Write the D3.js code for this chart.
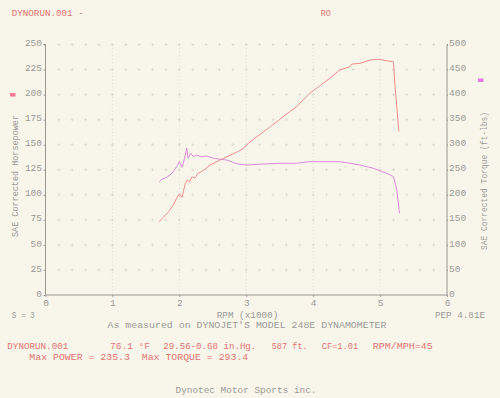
<!DOCTYPE html>
<html><head><meta charset="utf-8">
<script src="https://cdn.jsdelivr.net/npm/d3@7"></script>
<style>
html,body{margin:0;padding:0;background:#f8f6eb;}
svg{display:block;}
text{font-family:"Liberation Mono","DejaVu Sans Mono",monospace;font-size:9.5px;white-space:pre;}
</style></head>
<body>
<svg id="chart" width="500" height="398"></svg>
<script>
// ---- data ----
const powerRpm = [1.70,1.76,1.84,1.91,1.96,2.00,2.04,2.06,2.09,2.12,2.15,2.19,2.23,2.28,2.33,2.38,2.46,2.56,2.66,2.76,2.87,2.96,3.03,3.16,3.26,3.36,3.46,3.55,3.65,3.75,3.85,3.95,4.05,4.15,4.25,4.40,4.55,4.58,4.70,4.85,4.97,5.10,5.20,5.22,5.25,5.28];
const powerHp  = [73.2,77.5,83.1,89.8,96.5,100.8,97.5,103.1,111.5,114.8,113.1,118.1,116.5,121.5,123.1,125.4,129.7,133.0,136.4,139.5,143.0,146.4,151.4,158.0,163.0,168.0,173.0,178.0,182.9,187.9,194.6,201.3,206.3,211.3,216.3,224.6,227.8,230.5,231.2,234.5,235.3,233.8,232.8,211.3,187.9,163.0];
const torqueRpm = [1.70,1.74,1.81,1.89,1.96,2.00,2.04,2.06,2.10,2.11,2.13,2.17,2.21,2.26,2.33,2.41,2.51,2.61,2.71,2.81,2.88,3.01,3.26,3.51,3.75,3.95,4.25,4.40,4.55,4.70,4.90,5.10,5.20,5.25,5.29];
const torqueFt  = [226.1,230.9,234.9,242.9,256.1,266.1,254.9,262.9,286.0,293.4,272.9,282.8,276.0,279.4,276.0,277.4,272.9,270.9,269.5,264.1,261.5,259.5,261.5,262.9,262.9,266.1,266.1,266.1,262.9,259.5,252.9,242.9,236.1,209.6,163.1];
const hpTicks = [0,25,50,75,100,125,150,175,200,225,250];
const tqTicks = [0,50,100,150,200,250,300,350,400,450,500];
const rpmTicks = [0,1,2,3,4,5,6];

const svg = d3.select("#chart");
const x = d3.scaleLinear().domain([0,6]).range([45.5,447]);
const yHp = d3.scaleLinear().domain([0,250]).range([295,44.5]);
const yTq = d3.scaleLinear().domain([0,500]).range([295,44.5]);

const grey = "#9a9a98", red = "#e27272";
const gridCol = "#d6d6cf";

// background
svg.append("rect").attr("width",500).attr("height",398).attr("fill","#f8f6eb");

// grid: plus marks
const g = svg.append("g");
const minor = d3.range(1,30).map(i => i*0.2);
hpTicks.filter(v=>v>0).forEach(v=>{
  minor.forEach(r=>{
    const cx = x(r), cy = yHp(v);
    g.append("path").attr("d",`M${cx-1.5},${cy}H${cx+1.5}M${cx},${cy-1.5}V${cy+1.5}`)
      .attr("stroke",gridCol).attr("stroke-width",0.7);
  });
});
// vertical dotted lines at integer rpm
[1,2,3,4,5].forEach(r=>{
  g.append("line").attr("x1",x(r)).attr("x2",x(r)).attr("y1",yHp(250)).attr("y2",yHp(0))
    .attr("stroke",gridCol).attr("stroke-width",0.8).attr("stroke-dasharray","1,2.5");
});

// axes
const axisCol = "#8c8c88";
const left = svg.append("g").attr("transform",`translate(${x(0)},0)`)
  .call(d3.axisLeft(yHp).tickValues(hpTicks).tickSize(2).tickPadding(1.5));
const right = svg.append("g").attr("transform",`translate(${x(6)},0)`)
  .call(d3.axisRight(yTq).tickValues(tqTicks).tickSize(1).tickPadding(1));
const bottom = svg.append("g").attr("transform",`translate(0,${yHp(0)})`)
  .call(d3.axisBottom(x).tickValues(rpmTicks).tickFormat(d3.format("d")).tickSize(2).tickPadding(3.5));
[left,right,bottom].forEach(a=>{
  a.select(".domain").attr("stroke",axisCol).attr("stroke-width",0.9);
  a.selectAll(".tick line").attr("stroke",axisCol).attr("stroke-width",0.8);
  a.selectAll(".tick text").attr("fill",grey).style("font-size","9.5px")
   .style("font-family",'"Liberation Mono","DejaVu Sans Mono",monospace');
});
left.select(".domain").attr("d",`M-2,${yHp(250)}H0V${yHp(0)}`);
right.select(".domain").attr("d",`M1,${yTq(500)}H0V${yTq(0)}`);
bottom.select(".domain").attr("d",`M${x(0)},0H${x(6)}`);
left.selectAll(".tick text").attr("dy","0.12em");
right.selectAll(".tick text").attr("dy","0.12em");
bottom.selectAll(".tick text").attr("dy","0.62em");

// curves
const linePow = d3.line().x((d,i)=>x(powerRpm[i])).y(d=>yHp(d));
const lineTq = d3.line().x((d,i)=>x(torqueRpm[i])).y(d=>yTq(d));
svg.append("path").attr("d",lineTq(torqueFt)).attr("fill","none").attr("stroke","#d98ad9").attr("stroke-width",1);
svg.append("path").attr("d",linePow(powerHp)).attr("fill","none").attr("stroke","#ef8c8a").attr("stroke-width",1);

// legend markers
svg.append("rect").attr("x",10).attr("y",93).attr("width",5.5).attr("height",3.5).attr("fill","#f07a90");
svg.append("rect").attr("x",478).attr("y",78.5).attr("width",5.5).attr("height",3.5).attr("fill","#e67ae6");

// texts
function txt(s, xx, yy, opts={}){
  const t = svg.append("text").attr("x",xx).attr("y",yy).text(s)
    .attr("fill",opts.fill||grey).attr("text-anchor",opts.anchor||"start");
  if(opts.len){ t.attr("textLength",opts.len).attr("lengthAdjust","spacingAndGlyphs"); }
  if(opts.rot){ t.attr("transform",`rotate(${opts.rot},${xx},${yy})`); }
  return t;
}
txt("SAE Corrected Horsepower", 17.5, 176, {anchor:"middle", rot:-90, len:122});
txt("SAE Corrected Torque (ft-lbs)", 486.5, 181, {anchor:"middle", rot:-90, len:138});

// header
txt("DYNORUN.001 -", 11.7, 16, {fill:red, len:72});
txt("RO", 320.7, 16, {fill:red, len:10});

// bottom texts
txt("S = 3", 11.7, 318, {len:23});
txt("RPM (x1000)", 247.5, 318, {anchor:"middle", len:61.6});
txt("PEP 4.81E", 435, 318, {len:50});
txt("As measured on DYNOJET'S MODEL 248E DYNAMOMETER", 247, 328, {anchor:"middle", len:279});

txt("DYNORUN.001", 7.3, 349, {fill:red, len:61});
txt("76.1 °F", 110, 349, {fill:red, len:40});
txt("29.56-0.68 in.Hg.", 163.3, 349, {fill:red, len:93});
txt("587 ft.", 271.7, 349, {fill:red, len:36});
txt("CF=1.01", 321.7, 349, {fill:red, len:36.6});
txt("RPM/MPH=45", 372.7, 349, {fill:red, len:60});
txt("Max POWER = 235.3  Max TORQUE = 293.4", 29.3, 360, {fill:red, len:219});

txt("Dynotec Motor Sports inc.", 246, 393, {anchor:"middle", len:141});
</script>
</body></html>
